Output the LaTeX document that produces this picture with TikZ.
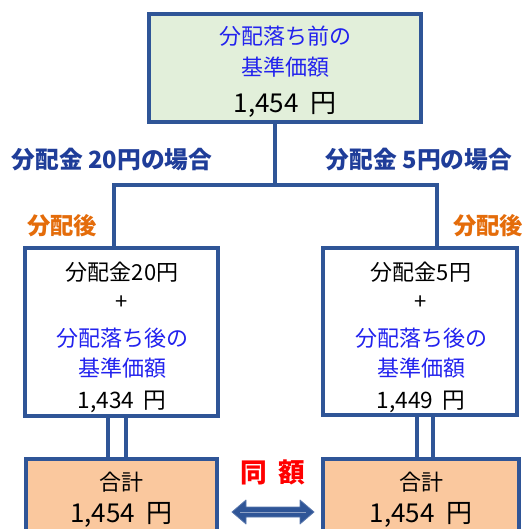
\documentclass[tikz,border=0pt]{standalone}
\usepackage{fontspec}
\setmainfont{Noto Sans CJK JP}
\definecolor{frame}{HTML}{2F5597}
\definecolor{lblue}{HTML}{1F3D99}
\definecolor{tblue}{HTML}{2222EE}
\definecolor{orangetx}{HTML}{E46C0A}
\definecolor{greenfill}{HTML}{E2EFDA}
\definecolor{orangefill}{HTML}{FAC89E}
\definecolor{redtx}{HTML}{FF0000}
\tikzset{
  boxnode/.style={draw=frame, line width=3pt, inner sep=0pt},
  conn/.style={draw=frame, line width=3.6pt},
  dbl/.style={draw=frame, line width=3pt},
  heading/.style={font=\fontsize{17.8}{20}\selectfont\bfseries, text=lblue, inner sep=0pt},
  after/.style={font=\fontsize{17.5}{20}\selectfont\bfseries, text=orangetx, inner sep=0pt},
  bluetx/.style={font=\fontsize{16.5}{20}\selectfont, text=tblue, inner sep=0pt},
  blacktx/.style={font=\fontsize{16.5}{20}\selectfont, text=black, inner sep=0pt},
  bignum/.style={font=\fontsize{19.5}{22}\selectfont, text=black, inner sep=0pt},
  midnum/.style={font=\fontsize{17}{20}\selectfont, text=black, inner sep=0pt},
}
\begin{document}
\begin{tikzpicture}[x=0.75pt, y=-0.75pt]
\useasboundingbox (0,0) rectangle (522,529);
\clip (0,0) rectangle (522,529);
% boxes
\node[boxnode, fill=greenfill, minimum width=204pt, minimum height=81pt] (top) at (285,68) {};
\node[boxnode, fill=white, minimum width=144.75pt, minimum height=126pt] (midL) at (121.5,332) {};
\node[boxnode, fill=white, minimum width=145.5pt, minimum height=125.25pt] (midR) at (420,331.5) {};
\node[boxnode, fill=orangefill, minimum width=143.25pt, minimum height=76.5pt] (botL) at (121.5,510) {};
\node[boxnode, fill=orangefill, minimum width=147pt, minimum height=76.5pt] (botR) at (421,510) {};
% connectors
\coordinate (cT) at (275,0);
\coordinate (cL) at (114,0);
\coordinate (cR) at (437,0);
\coordinate (junc) at (275,185);
\draw[conn] (top.south -| cT) -- (junc);
\draw[conn] (midL.north -| cL) |- (junc) -| (midR.north -| cR);
\coordinate (dL1) at (108,0);
\coordinate (dL2) at (126,0);
\coordinate (dR1) at (417,0);
\coordinate (dR2) at (433,0);
\draw[dbl] (midL.south -| dL1) -- (botL.north -| dL1);
\draw[dbl] (midL.south -| dL2) -- (botL.north -| dL2);
\draw[dbl] (midR.south -| dR1) -- (botR.north -| dR1);
\draw[dbl] (midR.south -| dR2) -- (botR.north -| dR2);
% top box text
\node[bluetx] (t1) at (285,36) {分配落ち前の};
\node[bluetx] (t2) at (285,67) {基準価額};
\node[bignum] (t3) at (285,105) {1,454\hspace{0.45em}円};
% headings
\node[heading] (hL) at (112,160) {分配金 20円の場合};
\node[heading] (hR) at (419,160) {分配金 5円の場合};
\node[after] (aL) at (62,226) {分配後};
\node[after, anchor=west] (aR) at (453,226) {分配後};
% middle left text
\node[blacktx] (l1) at (122,272) {分配金20円};
\node[blacktx] (l2) at (122,303) {+};
\node[bluetx] (l3) at (122,338) {分配落ち後の};
\node[bluetx] (l4) at (122,368) {基準価額};
\node[midnum] (l5) at (122,402) {1,434\hspace{0.4em}円};
% middle right text
\node[blacktx] (r1) at (421,272) {分配金5円};
\node[blacktx] (r2) at (421,303) {+};
\node[bluetx] (r3) at (421,338) {分配落ち後の};
\node[bluetx] (r4) at (421,368) {基準価額};
\node[midnum] (r5) at (421,402) {1,449\hspace{0.4em}円};
% bottom text
\node[blacktx] (b1) at (121.5,482) {合計};
\node[bignum] (b2) at (121.5,515) {1,454\hspace{0.45em}円};
\node[blacktx] (b3) at (421,482) {合計};
\node[bignum] (b4) at (421,515) {1,454\hspace{0.45em}円};
% same amount
\node[font=\fontsize{20}{24}\selectfont\bfseries, text=redtx, inner sep=0pt] (same) at (273,472) {同\hspace{0.45em}額};
\draw[fill=frame, draw=frame!80!white, line width=0.6pt, line join=round]
  (232,512) -- (246,500) -- (246,507) -- (300,507) -- (300,500) -- (314,512)
  -- (300,524) -- (300,517) -- (246,517) -- (246,524) -- cycle;
\draw[draw=frame!55!white, line width=0.6pt] (240,512) -- (306,512);
\end{tikzpicture}
\end{document}
